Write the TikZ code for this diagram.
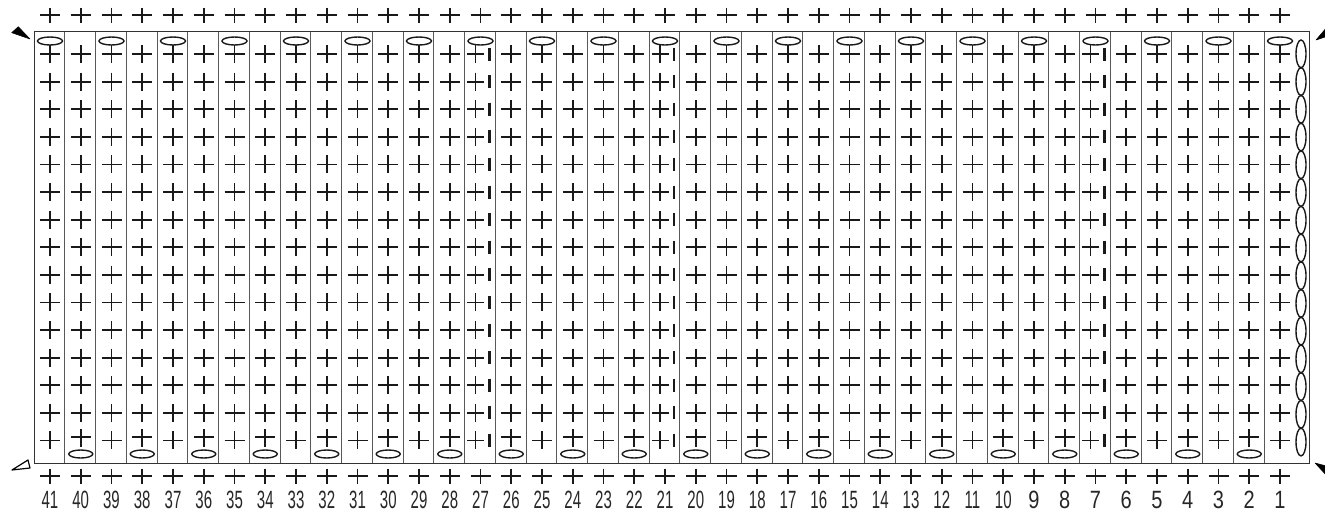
\documentclass[tikz,border=0pt]{standalone}
\usepackage{fontspec}
\newfontfamily\numA[FakeStretch=0.6]{Liberation Sans}
\newfontfamily\numB[FakeStretch=0.8]{Liberation Sans}
\begin{document}
\begin{tikzpicture}[x=1pt,y=-1pt,
  stitch/.style={line width=1.8pt,black!90,line cap=butt},
  chainloop/.style={line width=1.4pt,black!90},
  gridline/.style={line width=0.8pt,black!65},
  boxline/.style={line width=0.9pt,black!80},
  numtwo/.style={inner sep=0pt,font=\numA\fontsize{25}{25}\selectfont,text=black!85},
  numone/.style={inner sep=0pt,font=\numB\fontsize{25}{25}\selectfont,text=black!85},
  arrowfill/.style={fill=black,draw=black,line width=0.5pt,line join=round},
  arrowopen/.style={draw=black,line width=1.2pt,line join=round}]
\useasboundingbox (0,0) rectangle (1325,514);
% grid
\foreach \k in {1,...,40}{
  \draw[gridline] ({34+\k*30.75},31) -- ({34+\k*30.75},463);
}
\draw[boxline] (34,31) rectangle (1309,463);
% columns
\foreach \n in {1,...,41}{
  \pgfmathsetmacro\cx{50+(41-\n)*30.75}
  \pgfmathtruncatemacro\isbar{(\n==7)||(\n==21)||(\n==27)}
  % outside rows
  \draw[stitch] (\cx-10,15)--(\cx+10,15) (\cx,7.5)--(\cx,22.5);
  \draw[stitch] (\cx-10,476)--(\cx+10,476) (\cx,468.5)--(\cx,483.5);
  % chain ovals top / bottom
  \ifodd\n
    \draw[chainloop] (\cx,41) ellipse [x radius=12.5pt, y radius=4pt];
  \else
    \draw[chainloop] (\cx,454) ellipse [x radius=12pt, y radius=4pt];
  \fi
  % inner stitches
  \foreach \r in {1,...,15}{
    \pgfmathsetmacro\cy{54+(\r-1)*27.6}
    \ifnum\isbar=1
      \draw[stitch] (\cx-13.5,\cy)--(\cx+3.5,\cy) (\cx-5,\cy-9)--(\cx-5,\cy+9);
      \draw[stitch,line width=2.2pt] (\cx+9,\cy-6.5)--(\cx+9,\cy+6.5);
    \else
      \ifnum\r=15
        \ifodd\n
          \draw[stitch] (\cx-10,\cy)--(\cx+10,\cy) (\cx,\cy-9)--(\cx,\cy+9);
        \else
          \draw[stitch] (\cx-10,437)--(\cx+10,437) (\cx,429)--(\cx,447);
        \fi
      \else
        \draw[stitch] (\cx-10,\cy)--(\cx+10,\cy) (\cx,\cy-9)--(\cx,\cy+9);
      \fi
    \fi
  }
  % numbers
  \ifnum\n<10
    \node[numone] (num\n) at (\cx,500) {\n};
  \else
    \node[numtwo] (num\n) at (\cx,500) {\n};
  \fi
}
% vertical chain on the right
\foreach \k in {0,...,14}{
  \draw[chainloop] (1301,{53.85+\k*27.73}) ellipse [x radius=5pt, y radius=13.85pt];
}
% direction arrows
\fill[arrowfill] (30,39) -- (11.7,32.7) -- (18.3,26.7) -- cycle;
\draw[arrowopen] (12,470) -- (28,460) -- (30,468) -- cycle;
\fill[arrowfill] (1316,40) -- (1334,34) -- (1327,27) -- cycle;
\fill[arrowfill] (1315,463) -- (1334,468) -- (1327,476) -- cycle;
\end{tikzpicture}
\end{document}
